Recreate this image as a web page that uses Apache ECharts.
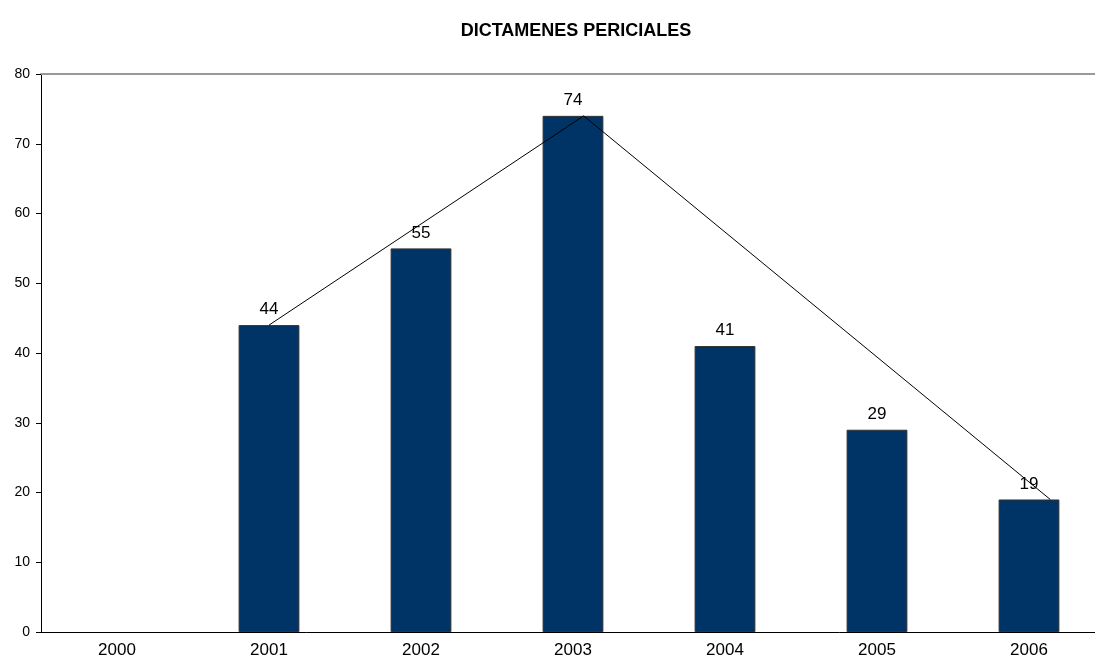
<!DOCTYPE html>
<html>
<head>
<meta charset="utf-8">
<script src="https://cdn.jsdelivr.net/npm/echarts@6/dist/echarts.min.js"></script>
<style>
  html, body { margin: 0; padding: 0; background: #fff; overflow: hidden; }
  #chart { width: 1105px; height: 668px; }
</style>
</head>
<body>
<div id="chart"></div>
<script>
// datos del grafico
const years = ['2000', '2001', '2002', '2003', '2004', '2005', '2006']
const dictamenes = [null, 44, 55, 74, 41, 29, 19]
// linea de tendencia (posicion en categorias, valor)
const lineX = [1, 3.07, 6.14]
const lineY = [44, 74, 19]
const yTicks = [0, 10, 20, 30, 40, 50, 60, 70, 80]

const chart = echarts.init(document.getElementById('chart'))
const font = 'Liberation Sans, Arial, sans-serif'

const option = {
  animation: false,
  title: {
    text: 'DICTAMENES PERICIALES',
    left: 571,
    top: 17,
    textAlign: 'center',
    textStyle: { fontFamily: font, fontSize: 18, fontWeight: 'bold', color: '#000' }
  },
  grid: { left: 41, top: 74, right: 0, height: 558 },
  xAxis: [
    {
      type: 'category',
      data: years,
      axisLine: { lineStyle: { color: '#000', width: 1 } },
      axisTick: { length: 6, lineStyle: { color: '#000' } },
      axisLabel: { fontFamily: font, fontSize: 17, color: '#000', margin: 10 }
    },
    {
      // borde superior del area
      type: 'category',
      position: 'top',
      data: years,
      axisLine: { lineStyle: { color: '#999', width: 2 } },
      axisTick: { show: false },
      axisLabel: { show: false }
    },
    {
      type: 'value',
      min: -0.5,
      max: 6.5,
      show: false
    }
  ],
  yAxis: {
    type: 'value',
    min: yTicks[0],
    max: yTicks[yTicks.length - 1],
    interval: 10,
    axisLine: { show: true, onZero: false, lineStyle: { color: '#000', width: 1 } },
    axisTick: { show: true, length: 5, lineStyle: { color: '#000' } },
    axisLabel: { fontFamily: font, fontSize: 14, color: '#000', margin: 11 },
    splitLine: { show: false }
  },
  series: [
    {
      type: 'bar',
      data: dictamenes,
      barWidth: '40%',
      itemStyle: { color: '#003366', borderColor: '#333', borderWidth: 1 },
      label: {
        show: true,
        position: 'top',
        distance: 7,
        fontFamily: font,
        fontSize: 17,
        color: '#000'
      }
    },
    {
      type: 'line',
      xAxisIndex: 2,
      data: lineX.map((x, i) => [x, lineY[i]]),
      symbol: 'none',
      lineStyle: { color: '#000', width: 1 },
      z: 5
    }
  ]
}

chart.setOption(option)
</script>
</body>
</html>
